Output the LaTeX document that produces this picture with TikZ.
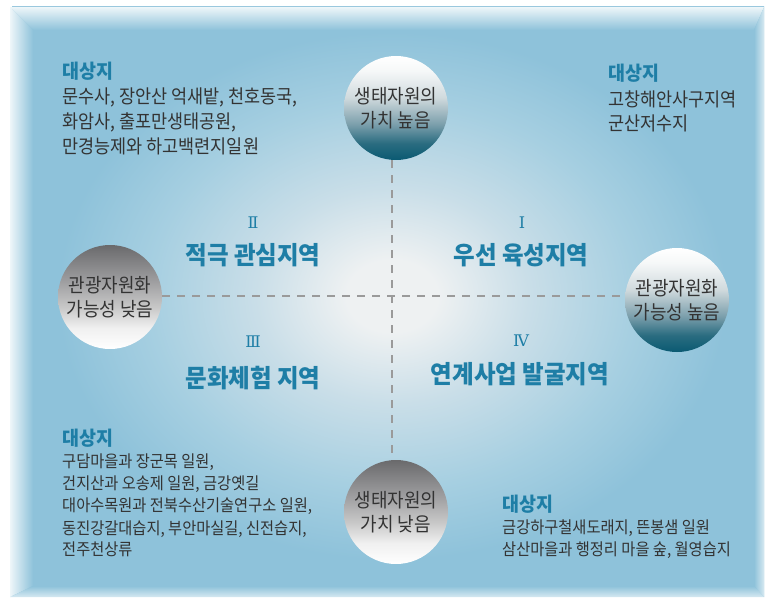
\documentclass[tikz,border=0pt]{standalone}
\usepackage{fontspec}
\setmainfont{Noto Sans CJK KR}
\newfontfamily\krbody{Noto Sans CJK KR}[FakeStretch=0.92]
\newfontfamily\krhead{Noto Sans CJK KR}[FakeStretch=0.945]
\newfontfamily\krtitle{Noto Sans CJK KR}[FakeStretch=0.94]
\newfontfamily\romanfont{DejaVu Serif}
\definecolor{titleblue}{HTML}{1E7EA6}
\definecolor{bodygray}{HTML}{333333}
\definecolor{dashgray}{HTML}{9A9A9A}
\definecolor{pcz}{HTML}{EEF1F2}
\definecolor{pca}{HTML}{C9DEE8}
\definecolor{pcb}{HTML}{A6CFE1}
\definecolor{pcc}{HTML}{8EC2DA}
\definecolor{bevlight}{HTML}{EEF6F9}
\definecolor{bevlighttwo}{HTML}{D6E9F1}
\definecolor{tbz}{HTML}{0A5A72}
\definecolor{tba}{HTML}{2A6C80}
\definecolor{tbb}{HTML}{7A9EAB}
\definecolor{tbc}{HTML}{D0DADD}
\definecolor{tbd}{HTML}{F6F8F8}
\definecolor{gbz}{HTML}{FFFFFF}
\definecolor{gba}{HTML}{F0F0F0}
\definecolor{gbb}{HTML}{C8C8C8}
\definecolor{gbc}{HTML}{A0A0A2}
\definecolor{gbd}{HTML}{6A6A6C}
\pgfdeclareradialshading{panelshade}{\pgfpoint{0bp}{0bp}}{color(0bp)=(pcz); color(3bp)=(pcz); color(9bp)=(pca); color(16bp)=(pcb); color(22bp)=(pcc); color(50bp)=(pcc)}
\pgfdeclareverticalshading{tealball}{100bp}{color(0bp)=(tbz); color(25bp)=(tbz); color(33bp)=(tba); color(42bp)=(tbb); color(55bp)=(tbc); color(68bp)=(tbd); color(75bp)=(white); color(100bp)=(white)}
\pgfdeclareverticalshading{grayball}{100bp}{color(0bp)=(gbz); color(25bp)=(gbz); color(35bp)=(gba); color(45bp)=(gbb); color(57bp)=(gbc); color(75bp)=(gbd); color(100bp)=(gbd)}
\begin{document}
\begin{tikzpicture}[x=1pt,y=-1pt,
  body/.style={inner sep=0pt, anchor=base west, text=bodygray, font=\krbody\fontsize{19}{19}\selectfont},
  bodysm/.style={inner sep=0pt, anchor=base west, text=bodygray, font=\krbody\fontsize{16.6}{16.6}\selectfont},
  head/.style={inner sep=0pt, anchor=base west, text=titleblue, font=\krhead\bfseries\fontsize{19.5}{19.5}\selectfont},
  quad/.style={inner sep=0pt, anchor=base, text=titleblue, font=\krtitle\bfseries\fontsize{25}{25}\selectfont},
  roman/.style={inner sep=0pt, anchor=center, text=titleblue, font=\romanfont\fontsize{16}{16}\selectfont},
  ball/.style={circle, minimum size=104pt, inner sep=0pt, align=center, text=bodygray, font=\krbody\fontsize{19.5}{24}\selectfont},
  tball/.style={ball, shading=tealball},
  gball/.style={ball, shading=grayball},
  axisline/.style={draw=dashgray, line width=2.6pt, dash pattern=on 8pt off 7pt}
]
\useasboundingbox (0,0) rectangle (770,604);
\fill[white] (0,0) rectangle (770,604);
% panel
\begin{scope}
  \clip (10,7) rectangle (764,597);
  \shade[shading=panelshade] (12,-4) rectangle (772,596);
\end{scope}
% bevel
\shade[top color=bevlight, bottom color=pcc] (10,7) -- (764,7) -- (754,30) -- (33,30) -- cycle;
\shade[left color=bevlight, right color=pcc] (10,7) -- (33,30) -- (33,586) -- (10,597) -- cycle;
\shade[right color=bevlighttwo, left color=pcc] (764,7) -- (764,597) -- (754,586) -- (754,30) -- cycle;
\shade[bottom color=bevlighttwo, top color=pcc] (10,597) -- (764,597) -- (754,586) -- (33,586) -- cycle;
% balls
\node[tball] (topball) at (396,108) {생태자원의\\가치 높음};
\node[gball] (botball) at (396,512) {생태자원의\\가치 낮음};
\node[gball] (leftball) at (110,297) {관광자원화\\가능성 낮음};
\node[tball] (rightball) at (677,300) {관광자원화\\가능성 높음};
% axes
\coordinate (c) at (392,296);
\draw[axisline] (leftball.east |- c) -- (rightball.west |- c);
\draw[axisline] (topball.south -| c) -- (botball.north -| c);
% quadrant labels
\node[roman] (r2) at (253,223) {Ⅱ};
\node[quad] (q2) at (253,264.5) {적극 관심지역};
\node[roman] (r3) at (253,342) {Ⅲ};
\node[quad] (q3) at (253,387.5) {문화체험 지역};
\node[roman] (r1) at (522,223) {Ⅰ};
\node[quad] (q1) at (521,264.5) {우선 육성지역};
\node[roman] (r4) at (521,341) {Ⅳ};
\node[quad] (q4) at (520,383.5) {연계사업 발굴지역};
% top-left targets
\node[head] (h1) at (62,78.7) {대상지};
\node[body] (a1) at (62,103.7) {문수사, 장안산 억새밭, 천호동국,};
\node[body] (a2) at (62,128.7) {화암사, 출포만생태공원,};
\node[body] (a3) at (62,153.7) {만경능제와 하고백련지일원};
% top-right targets
\node[head] (h2) at (608,80.7) {대상지};
\node[body] (b1) at (608,106.7) {고창해안사구지역};
\node[body] (b2) at (608,130.7) {군산저수지};
% bottom-left targets
\node[head] (h3) at (62,445.7) {대상지};
\node[bodysm] (c1) at (62,467.9) {구담마을과 장군목 일원,};
\node[bodysm] (c2) at (62,489.9) {건지산과 오송제 일원, 금강옛길};
\node[bodysm] (c3) at (62,511.9) {대아수목원과 전북수산기술연구소 일원,};
\node[bodysm] (c4) at (62,534.9) {동진강갈대습지, 부안마실길, 신전습지,};
\node[bodysm] (c5) at (62,555.9) {전주천상류};
% bottom-right targets
\node[head] (h4) at (502,511.7) {대상지};
\node[bodysm] (d1) at (502,533.9) {금강하구철새도래지, 뜬봉샘 일원};
\node[bodysm] (d2) at (502,555.9) {삼산마을과 행정리 마을 숲, 월영습지};
\end{tikzpicture}
\end{document}
